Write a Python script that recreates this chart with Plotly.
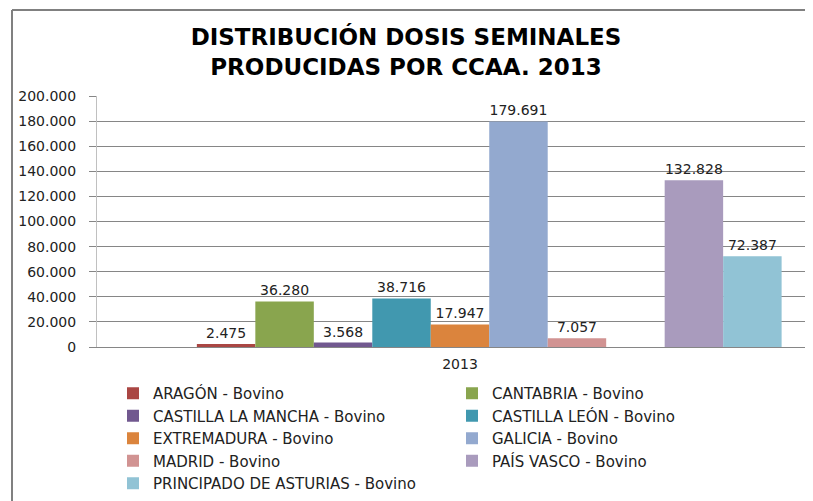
import plotly.graph_objects as go

categories = ["2013"]
series_names = [
    "", "ARAGÓN - Bovino", "CANTABRIA - Bovino", "CASTILLA LA MANCHA - Bovino",
    "CASTILLA LEÓN - Bovino", "EXTREMADURA - Bovino", "GALICIA - Bovino",
    "MADRID - Bovino", " ", "PAÍS VASCO - Bovino", "PRINCIPADO DE ASTURIAS - Bovino",
]
series_values = [None, 2475, 36280, 3568, 38716, 17947, 179691, 7057, None, 132828, 72387]
series_colors = ["#4572A7", "#AA4643", "#89A54E", "#71588F", "#4198AF", "#DB843D",
                 "#93A9CF", "#D19392", "#B9CD96", "#A99BBD", "#91C3D5"]
y_tickvals = [0, 20000, 40000, 60000, 80000, 100000, 120000, 140000, 160000, 180000, 200000]

OFF = 8  # page body margin
W, H = 813 - OFF, 501 - OFF
L, R, T, B = 97 - OFF, 0, 96 - OFF, 501 - 347
pw, ph = W - L - R, H - T - B

fig = go.Figure()
for name, val, col in zip(series_names, series_values, series_colors):
    fig.add_trace(go.Bar(
        x=[0], y=[val], name=name, marker=dict(color=col, line=dict(width=0)),
        showlegend=val is not None,
        texttemplate="%{y:,.0f}", textposition="outside", cliponaxis=False,
        textfont=dict(family="DejaVu Sans", size=14, color="#222222"),
    ))

def px_x(p):  # screen px -> paper
    return (p - OFF - L) / pw

def px_y(p):
    return (H - B - (p - OFF)) / ph

fig.update_layout(
    width=W, height=H,
    margin=dict(l=L, r=R, t=T, b=B),
    paper_bgcolor="white", plot_bgcolor="white",
    separators=",.",
    barmode="group", bargap=0.114, bargroupgap=0,
    title=dict(
        text="<b>DISTRIBUCIÓN DOSIS SEMINALES<br>PRODUCIDAS POR CCAA. 2013</b>",
        x=(406 - OFF) / W, xanchor="center", xref="container",
        y=1 - (45 - OFF) / H, yanchor="middle",
        font=dict(family="DejaVu Sans", size=23, color="#000000"),
    ),
    xaxis=dict(
        range=[-0.5, (813 - 460) / 726], tickvals=[0], ticktext=categories,
        showgrid=False, zeroline=False, showline=True, linecolor="#868686", linewidth=1,
        ticks="", ticklabelstandoff=4,
        tickfont=dict(family="DejaVu Sans", size=14, color="#222222"),
    ),
    yaxis=dict(
        range=[0, 200000], tickvals=y_tickvals, tickformat=",.0f",
        showgrid=True, gridcolor="#868686", gridwidth=1, zeroline=False,
        showline=True, linecolor="#C0C0C0", linewidth=1,
        ticks="outside", ticklen=7, tickcolor="#868686", ticklabelstandoff=10,
        tickfont=dict(family="DejaVu Sans", size=14, color="#222222"),
    ),
    legend=dict(
        orientation="h", x=px_x(113), xanchor="left", y=px_y(377), yanchor="top",
        entrywidth=294, entrywidthmode="pixels", traceorder="normal",
        font=dict(family="DejaVu Sans", size=15, color="#222222"),
        itemwidth=30, bgcolor="rgba(0,0,0,0)",
    ),
    shapes=[
        dict(type="line", xref="paper", yref="paper", x0=px_x(12), x1=px_x(813),
             y0=px_y(10), y1=px_y(10), line=dict(color="#808080", width=2)),
        dict(type="line", xref="paper", yref="paper", x0=px_x(12), x1=px_x(12),
             y0=px_y(10), y1=px_y(501), line=dict(color="#808080", width=2)),
    ],
)

fig.write_html("out.html")
